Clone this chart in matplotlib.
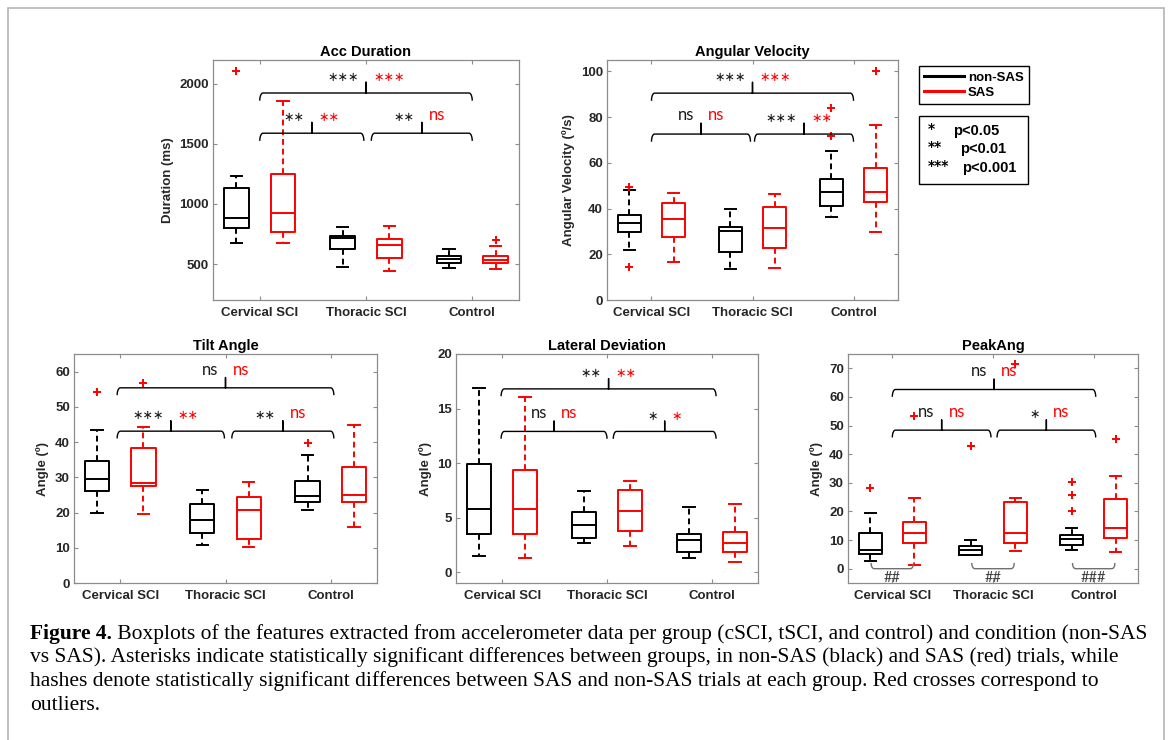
import numpy as np
import matplotlib
matplotlib.use('Agg')
import matplotlib.pyplot as plt
from matplotlib.lines import Line2D
from matplotlib.patches import Rectangle

W, H = 1171, 740

plt.rcParams['font.family'] = ['Liberation Sans', 'DejaVu Sans']
plt.rcParams['font.weight'] = 'bold'
plt.rcParams['axes.titleweight'] = 'bold'
plt.rcParams['axes.labelweight'] = 'bold'

groups = ['Cervical SCI', 'Thoracic SCI', 'Control']

# box stats per group: [whisker low, q1, median, q3, whisker high]
acc_black = [[672, 797, 886, 1136, 1236], [472, 625, 714, 736, 806], [470, 506, 540, 569, 625]]
acc_red = [[678, 764, 922, 1247, 1858], [444, 553, 658, 708, 819], [460, 505, 532, 565, 650]]
acc_black_out = [[2108], [], []]
acc_red_out = [[], [], [700]]

vel_black = [[21.9, 29.9, 33.9, 37.2, 48.2], [13.6, 20.9, 30.2, 32.1, 39.7], [36.1, 41.2, 47.2, 52.9, 65.4]]
vel_red = [[16.8, 27.4, 35.3, 42.3, 46.7], [14.2, 22.9, 31.7, 40.9, 46.4], [29.6, 42.8, 47.2, 57.7, 76.7]]
vel_black_out = [[14.6, 49.6], [], [71.8, 84.2]]
vel_red_out = [[], [], [100.4]]

tilt_black = [[19.9, 26.1, 29.6, 34.6, 43.3], [10.7, 14.2, 17.8, 22.5, 26.5], [20.6, 22.9, 24.6, 28.9, 36.3]]
tilt_red = [[19.7, 27.5, 28.4, 38.4, 44.4], [10.2, 12.5, 20.6, 24.3, 28.6], [15.9, 22.9, 25.1, 32.9, 44.8]]
tilt_black_out = [[54.2], [], [39.8]]
tilt_red_out = [[56.7], [], []]

lat_black = [[1.44, 3.49, 5.79, 9.87, 16.9], [2.67, 3.13, 4.35, 5.49, 7.48], [1.29, 1.81, 2.91, 3.52, 5.98]]
lat_red = [[1.29, 3.52, 5.82, 9.35, 16.1], [2.36, 3.80, 5.58, 7.51, 8.34], [0.92, 1.81, 2.67, 3.64, 6.26]]
lat_black_out = [[], [], []]
lat_red_out = [[], [], []]

peak_black = [[2.6, 5.3, 6.7, 12.3, 19.5], [4.7, 4.9, 6.4, 7.8, 9.9], [6.7, 8.2, 10.2, 11.6, 14.2]]
peak_red = [[1.4, 9.0, 12.3, 16.2, 24.7], [6.1, 9.0, 12.5, 23.2, 24.7], [5.8, 10.7, 14.2, 24.4, 32.3]]
peak_black_out = [[28.1], [42.8], [20.3, 25.9, 30.2]]
peak_red_out = [[53.5], [71.4], [45.2]]

# significance brackets: (x from, x to, level, non-SAS mark, SAS mark)
acc_sig = [(1, 3, 1925, '***', '***'), (1, 1.98, 1590, '**', '**'), (2.05, 3, 1590, '**', 'ns')]
vel_sig = [(1, 3, 90.5, '***', '***'), (1, 1.98, 72.6, 'ns', 'ns'), (2.02, 3, 72.6, '***', '**')]
tilt_sig = [(0.97, 3.03, 55.4, 'ns', 'ns'), (0.97, 1.99, 43.1, '***', '**'), (2.06, 3.03, 43.1, '**', 'ns')]
lat_sig = [(0.99, 3.04, 16.8, '**', '**'), (0.99, 2.0, 12.9, 'ns', 'ns'), (2.06, 3.04, 12.9, '*', '*')]
peak_sig = [(1, 3.02, 62.6, 'ns', 'ns'), (1, 1.98, 48.4, 'ns', 'ns'), (2.04, 3.02, 48.4, '*', 'ns')]
peak_hash = ['##', '##', '###']


def px_axes(l, t, r, b):
    return [l / W, 1 - b / H, (r - l) / W, (b - t) / H]


def draw_boxes(ax, stats, outs, offset, color):
    bx = []
    for s, o in zip(stats, outs):
        bx.append(dict(whislo=s[0], q1=s[1], med=s[2], q3=s[3], whishi=s[4], fliers=o))
    lp = dict(color=color, lw=1.4)
    ax.bxp(bx, positions=[g + offset for g in (1, 2, 3)], widths=0.23, capwidths=0.11,
           manage_ticks=False, boxprops=lp, medianprops=lp, capprops=lp,
           whiskerprops=dict(color=color, lw=1.4, ls=(0, (3, 2))),
           flierprops=dict(marker='+', markeredgecolor='red', markersize=6, mew=1.4, ls='none'))


def mark(ax, txt, xy, dx, ha, color):
    if '*' in txt:
        ax.annotate(txt.replace('*', '\u2217'), xy, xytext=(dx, 1), textcoords='offset points',
                    ha=ha, va='baseline', color=color, fontsize=9, fontweight='normal',
                    family='DejaVu Sans')
    else:
        ax.annotate(txt, xy, xytext=(dx, 2), textcoords='offset points',
                    ha=ha, va='baseline', color=color, fontsize=12, fontweight='normal',
                    family='Lato')


def brace(ax, x1, x2, y, t_black, t_red):
    y0, y1 = ax.get_ylim()
    d = 0.032 * (y1 - y0)
    s = 0.045 * (y1 - y0)
    e = 0.03
    t = np.linspace(0, np.pi / 2, 8)
    xm = (x1 + x2) / 2
    lx = x1 + e - e * np.cos(t)
    ly = y - d + d * np.sin(t)
    rx = (x2 - e + e * np.cos(t))[::-1]
    ry = (y - d + d * np.sin(t))[::-1]
    xs = np.concatenate([lx, [xm, xm, xm], rx])
    ys = np.concatenate([ly, [y, y + s, y], ry])
    ax.plot(xs, ys, color='black', lw=1.0, solid_capstyle='butt')
    mark(ax, t_black, (xm, y + s), -5, 'right', '#1a1a1a')
    mark(ax, t_red, (xm, y + s), 5, 'left', 'red')


def hash_bracket(ax, g, txt):
    y0, y1 = ax.get_ylim()
    d = 0.022 * (y1 - y0)
    e = 0.03
    x1, x2 = g - 0.21, g + 0.21
    t = np.linspace(0, np.pi / 2, 8)
    lx = x1 + e - e * np.cos(t)
    ly = d - d * np.sin(t)
    rx = (x2 - e + e * np.cos(t))[::-1]
    ry = (d - d * np.sin(t))[::-1]
    ax.plot(np.concatenate([lx, rx]), np.concatenate([ly, ry]), color='#707070', lw=1.0)
    ax.annotate(txt, (g, 0), xytext=(0, -2), textcoords='offset points', ha='center', va='top',
                color='#404040', fontsize=10.5, fontweight='normal', family='Lato')


def panel(rect, title, ylabel, ylim, yticks, black, red, black_out, red_out, sig):
    ax = fig.add_axes(px_axes(*rect))
    ax.set_xlim(0.56, 3.44)
    ax.set_ylim(*ylim)
    draw_boxes(ax, black, black_out, -0.22, 'black')
    draw_boxes(ax, red, red_out, 0.22, 'red')
    ax.set_xticks([1, 2, 3], groups)
    ax.set_yticks(yticks)
    ax.tick_params(direction='in', top=True, right=True, length=3, width=0.8, color='#8c8c8c',
                   labelsize=9.5, labelcolor='#262626')
    ax.tick_params(axis='x', pad=5)
    ax.tick_params(axis='y', pad=3)
    for sp in ax.spines.values():
        sp.set_color('#8c8c8c')
        sp.set_linewidth(0.9)
    ax.set_title(title, fontsize=10.5, pad=3, color='black')
    ax.set_ylabel(ylabel, fontsize=9.5, color='#262626', labelpad=4)
    for x1, x2, y, tb, tr in sig:
        brace(ax, x1, x2, y, tb, tr)
    return ax


fig = plt.figure(figsize=(W / 100, H / 100), dpi=100)

panel((213, 60, 519, 300), 'Acc Duration', 'Duration (ms)', (200, 2200), [500, 1000, 1500, 2000],
      acc_black, acc_red, acc_black_out, acc_red_out, acc_sig)
panel((607, 60, 898, 300), 'Angular Velocity', 'Angular Velocity (º/s)', (0, 105), range(0, 101, 20),
      vel_black, vel_red, vel_black_out, vel_red_out, vel_sig)
panel((74, 354, 377, 583), 'Tilt Angle', 'Angle (º)', (0, 65), range(0, 61, 10),
      tilt_black, tilt_red, tilt_black_out, tilt_red_out, tilt_sig)
panel((456, 354, 758, 583), 'Lateral Deviation', 'Angle (º)', (-1, 20), [0, 5, 10, 15, 20],
      lat_black, lat_red, lat_black_out, lat_red_out, lat_sig)
ax5 = panel((848, 354, 1138, 583), 'PeakAng', 'Angle (º)', (-5, 75), range(0, 71, 10),
            peak_black, peak_red, peak_black_out, peak_red_out, peak_sig)
for g, h in zip((1, 2, 3), peak_hash):
    hash_bracket(ax5, g, h)

# legend
handles = [Line2D([], [], color='black', lw=2.2), Line2D([], [], color='red', lw=2.2)]
leg = fig.legend(handles, ['non-SAS', 'SAS'], loc='upper left', bbox_to_anchor=(919 / W, 1 - 66 / H),
                 borderaxespad=0, fancybox=False, edgecolor='black', framealpha=1, borderpad=0.4,
                 handlelength=3.0, handletextpad=0.3, labelspacing=0.25,
                 prop=dict(weight='bold', size=9.5))
leg.get_frame().set_linewidth(1.0)

# p-value key
fig.patches.append(Rectangle((919 / W, 1 - 184 / H), 109 / W, 68 / H, transform=fig.transFigure,
                             fill=False, edgecolor='black', lw=1.0))
p_keys = ['*', '**', '***']
p_vals = ['p<0.05', 'p<0.01', 'p<0.001']
p_rows = [131, 149, 168]
p_cols = [953, 960, 962]
for k, v, yy, xx in zip(p_keys, p_vals, p_rows, p_cols):
    fig.text(928 / W, 1 - (yy - 2) / H, k, fontsize=10, va='center', color='black',
             family='DejaVu Sans')
    fig.text(xx / W, 1 - yy / H, v, fontsize=10.5, va='center', color='black')

# outer frame
fig.patches.append(Rectangle((8 / W, -0.1), (1164 - 8) / W, 1.1 - 8 / H, transform=fig.transFigure,
                             fill=False, edgecolor='#b4b4b4', lw=1.2))

# caption
cap_lines = [
    [('Figure 4.', 'bold'), (' Boxplots of the features extracted from accelerometer data per group (cSCI, tSCI, and control) and condition (non-SAS', 'normal')],
    [('vs SAS). Asterisks indicate statistically significant differences between groups, in non-SAS (black) and SAS (red) trials, while', 'normal')],
    [('hashes denote statistically significant differences between SAS and non-SAS trials at each group. Red crosses correspond to', 'normal')],
    [('outliers.', 'normal')],
]
cap_y = [639, 662, 686, 710]

renderer = fig.canvas.get_renderer()


def caption_line(parts, y, size):
    x = 30
    made = []
    for txt, wt in parts:
        t = fig.text(x / W, 1 - y / H, txt, fontsize=size, fontweight=wt,
                     family='Liberation Serif', va='baseline', color='black')
        made.append(t)
        x = t.get_window_extent(renderer).x1
    return made, x


# fit the first line to the printed width
tmp, x_end = caption_line(cap_lines[0], cap_y[0], 14)
size = 14 * (1150 - 30) / (x_end - 30)
for t in tmp:
    t.remove()
for parts, y in zip(cap_lines, cap_y):
    caption_line(parts, y, size)

fig.savefig('out.png', dpi=100)
